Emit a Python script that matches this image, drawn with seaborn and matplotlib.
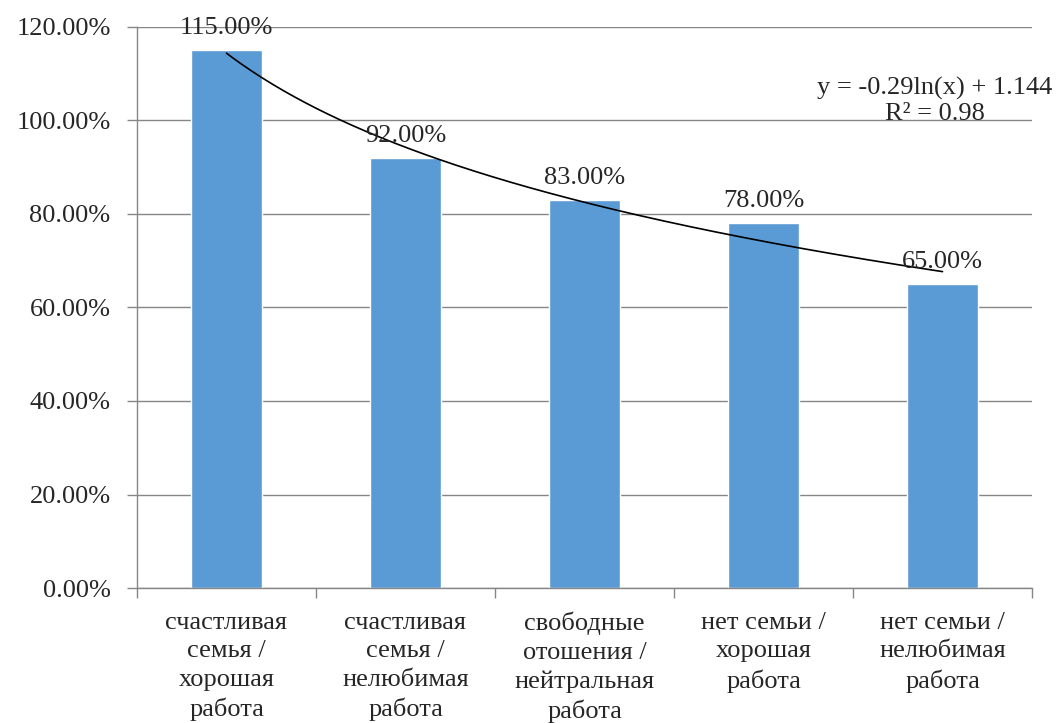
import numpy as np
import pandas as pd
import matplotlib
matplotlib.use('Agg')
import matplotlib.pyplot as plt
import seaborn as sns
from matplotlib.ticker import PercentFormatter, FixedLocator

categories = ['счастливая\nсемья /\nхорошая\nработа',
              'счастливая\nсемья /\nнелюбимая\nработа',
              'свободные\nотошения /\nнейтральная\nработа',
              'нет семьи /\nхорошая\nработа',
              'нет семьи /\nнелюбимая\nработа']
values = [1.15, 0.92, 0.83, 0.78, 0.65]
r2_text = 'R² = 0.98'

sns.set_style('white')
plt.rcParams['font.family'] = ['Liberation Serif', 'DejaVu Serif']
grid_col = '#868686'
fs = 19

df = pd.DataFrame({'cat': categories, 'val': values})

fig = plt.figure(figsize=(10.56, 7.23), dpi=100)
ax = fig.add_axes([0.1297, 0.1867, 0.9773 - 0.1297, 0.9627 - 0.1867])

sns.barplot(data=df, x='cat', y='val', color='#5B9BD5', width=0.4,
            saturation=1, ax=ax, zorder=2)

# log trendline fit, like excel does
xs = np.arange(1, len(values) + 1)
slope, intercept = np.polyfit(np.log(xs), values, 1)
curve = np.linspace(1, len(values), 200)
ax.plot(curve - 1, slope * np.log(curve) + intercept, color='black', lw=1.2, zorder=3)

for i, v in enumerate(values):
    ax.annotate(f'{v*100:.2f}%', (i, v), xytext=(0, 8), textcoords='offset points',
                ha='center', va='bottom', fontsize=fs, zorder=4)

ax.text(3.955, 0.99, f'y = {slope:.2f}ln(x) + {intercept:.3f}\n{r2_text}',
        ha='center', va='bottom', fontsize=fs, linespacing=1.2, zorder=4)

ax.set_ylim(0, 1.2)
ax.set_xlim(-0.5, len(values) - 0.5)
ax.set_yticks(np.arange(0, 1.21, 0.2))
ax.yaxis.set_major_formatter(PercentFormatter(xmax=1, decimals=2))
ax.grid(axis='y', color=grid_col, lw=1, zorder=0)
ax.set_axisbelow(True)
ax.set_xlabel('')
ax.set_ylabel('')

ax.xaxis.set_minor_locator(FixedLocator(np.arange(-0.5, len(values), 1)))
ax.tick_params(axis='x', which='major', length=0, pad=17, labelsize=fs)
ax.tick_params(axis='x', which='minor', length=7, color=grid_col, width=1, direction='out')
ax.tick_params(axis='y', length=7, color=grid_col, width=1, direction='out', labelsize=fs, pad=12)
ax.yaxis.set_ticks_position('left')
ax.xaxis.set_ticks_position('bottom')
for lbl in ax.get_xticklabels():
    lbl.set_linespacing(1.38)

for s in ['top', 'right']:
    ax.spines[s].set_visible(False)
for s in ['left', 'bottom']:
    ax.spines[s].set_color(grid_col)
    ax.spines[s].set_linewidth(1)

fig.savefig('out.png', dpi=100)
